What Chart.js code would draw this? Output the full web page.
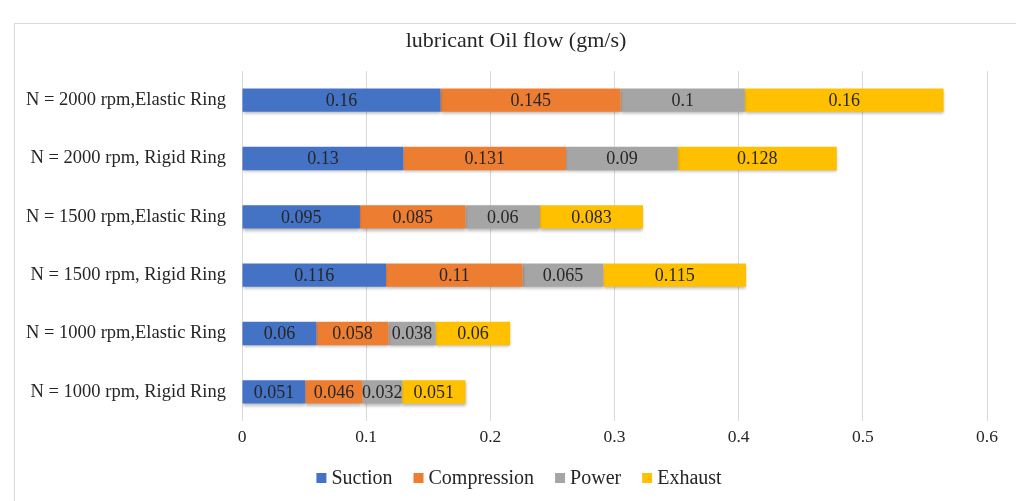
<!DOCTYPE html>
<html>
<head>
<meta charset="utf-8">
<script src="https://cdn.jsdelivr.net/npm/chart.js@4"></script>
<style>
  html, body { margin: 0; padding: 0; background: #fff; }
  #wrap { position: relative; width: 1016px; height: 501px; overflow: hidden; }
  #frame { position: absolute; left: 14px; top: 23px; width: 1100px; height: 600px; border: 1px solid #d9d9d9; }
  canvas { position: absolute; left: 0; top: 0; }
</style>
</head>
<body>
<div id="wrap">
  <div id="frame"></div>
  <canvas id="chartOil" width="1016" height="501"></canvas>
</div>
<script>
// lubricant oil flow per stroke, stacked
const categories = [
  'N = 2000 rpm,Elastic Ring',
  'N = 2000 rpm, Rigid Ring',
  'N = 1500 rpm,Elastic Ring',
  'N = 1500 rpm, Rigid Ring',
  'N = 1000 rpm,Elastic Ring',
  'N = 1000 rpm, Rigid Ring'
];
const suction     = [0.16, 0.13, 0.095, 0.116, 0.06, 0.051];
const compression = [0.145, 0.131, 0.085, 0.11, 0.058, 0.046];
const power       = [0.1, 0.09, 0.06, 0.065, 0.038, 0.032];
const exhaust     = [0.16, 0.128, 0.083, 0.115, 0.06, 0.051];
const xTicks = [0, 0.1, 0.2, 0.3, 0.4, 0.5, 0.6];

const TITLE = 'lubricant Oil flow (gm/s)';
const SERIF = "'Liberation Serif', 'Times New Roman', serif";
const TEXT = '#262626';

// draws the value in the middle of each segment
const valueLabels = {
  id: 'valueLabels',
  afterDatasetsDraw(chart) {
    const ctx = chart.ctx;
    ctx.save();
    ctx.font = '18px ' + SERIF;
    ctx.fillStyle = TEXT;
    ctx.textAlign = 'center';
    ctx.textBaseline = 'middle';
    chart.data.datasets.forEach(function(ds, i) {
      chart.getDatasetMeta(i).data.forEach(function(bar, j) {
        const cx = (bar.x + bar.base) / 2;
        ctx.fillText(String(ds.data[j]), cx, bar.y + 1);
      });
    });
    ctx.restore();
  }
};

// soft shadow under bars
const barShadow = {
  id: 'barShadow',
  beforeDatasetsDraw(chart) {
    const ctx = chart.ctx;
    ctx.save();
    ctx.shadowColor = 'rgba(0,0,0,0.28)';
    ctx.shadowBlur = 3;
    ctx.shadowOffsetY = 2;
  },
  afterDatasetsDraw(chart) {
    chart.ctx.restore();
  }
};

// title centred on the whole frame, not on the layout box
const frameTitle = {
  id: 'frameTitle',
  afterDraw(chart) {
    const ctx = chart.ctx;
    ctx.save();
    ctx.font = '22px ' + SERIF;
    ctx.fillStyle = TEXT;
    ctx.textAlign = 'center';
    ctx.textBaseline = 'middle';
    ctx.fillText(TITLE, 516, 41);
    ctx.restore();
  }
};

// excel-like legend: small squares, tight gap to text
const bottomLegend = {
  id: 'bottomLegend',
  afterDraw(chart) {
    const ctx = chart.ctx;
    const box = 10, gap = 5, spacing = 21;
    const y = 478;
    ctx.save();
    ctx.font = '20px ' + SERIF;
    ctx.textBaseline = 'middle';
    const items = chart.data.datasets.map(function(ds) {
      return { text: ds.label, color: ds.backgroundColor, w: ctx.measureText(ds.label).width };
    });
    let total = 0;
    items.forEach(function(it, i) { total += box + gap + it.w + (i ? spacing : 0); });
    let x = 519 - total / 2;
    items.forEach(function(it) {
      ctx.fillStyle = it.color;
      ctx.fillRect(x, y - box / 2, box, box);
      ctx.fillStyle = TEXT;
      ctx.fillText(it.text, x + box + gap, y + 1);
      x += box + gap + it.w + spacing;
    });
    ctx.restore();
  }
};

const colors = ['#4472C4', '#ED7D31', '#A5A5A5', '#FFC000'];
const names = ['Suction', 'Compression', 'Power', 'Exhaust'];
const series = [suction, compression, power, exhaust];

new Chart(document.getElementById('chartOil'), {
  type: 'bar',
  data: {
    labels: categories,
    datasets: series.map(function(vals, i) {
      return {
        label: names[i],
        data: vals,
        backgroundColor: colors[i],
        borderWidth: 0,
        barPercentage: 0.8,
        categoryPercentage: 0.5
      };
    })
  },
  options: {
    indexAxis: 'y',
    responsive: false,
    animation: false,
    layout: { padding: { top: 71, right: 29, left: 0, bottom: 50 } },
    plugins: {
      title: { display: false },
      legend: { display: false },
      tooltip: { enabled: false }
    },
    scales: {
      x: {
        stacked: true,
        min: 0,
        max: 0.6,
        afterBuildTicks: function(scale) {
          scale.ticks = xTicks.map(function(v) { return { value: v }; });
        },
        afterFit: function(scale) { scale.height = 30; },
        grid: { color: '#d9d9d9', drawTicks: false },
        border: { display: false },
        ticks: {
          color: TEXT,
          padding: 6,
          font: { family: SERIF, size: 17.5 },
          callback: function(v) { return String(Math.round(v * 10) / 10); }
        }
      },
      y: {
        stacked: true,
        afterFit: function(scale) { scale.width = 242; },
        grid: { display: false, drawTicks: false },
        border: { display: false },
        ticks: {
          color: TEXT,
          padding: 16,
          font: { family: SERIF, size: 18.5 }
        }
      }
    }
  },
  plugins: [barShadow, valueLabels, frameTitle, bottomLegend]
});
</script>
</body>
</html>
